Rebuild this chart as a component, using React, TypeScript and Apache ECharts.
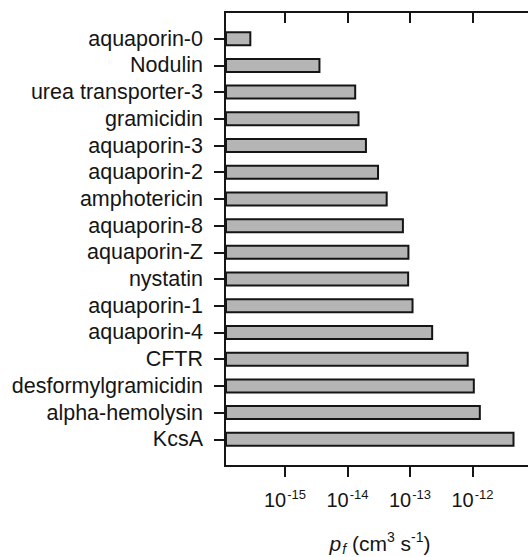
import React, { useEffect, useRef } from "react";
import * as echarts from "echarts";

const categories = [
  "aquaporin-0",
  "Nodulin",
  "urea transporter-3",
  "gramicidin",
  "aquaporin-3",
  "aquaporin-2",
  "amphotericin",
  "aquaporin-8",
  "aquaporin-Z",
  "nystatin",
  "aquaporin-1",
  "aquaporin-4",
  "CFTR",
  "desformylgramicidin",
  "alpha-hemolysin",
  "KcsA",
];

const pfValues = [
  2.9e-16, 3.7e-15, 1.38e-14, 1.56e-14, 2.05e-14, 3.2e-14, 4.4e-14, 8.0e-14,
  9.8e-14, 9.7e-14, 1.14e-13, 2.35e-13, 8.7e-13, 1.09e-12, 1.36e-12, 4.7e-12,
];

const tickValues = [1e-15, 1e-14, 1e-13, 1e-12];
const axisMin = 1.1e-16;
const axisMax = 1e-11;

const FONT = "'Liberation Sans', Arial, Helvetica, sans-serif";
const INK = "#151515";

export default function App() {
  const ref = useRef<HTMLDivElement>(null);

  useEffect(() => {
    document.body.style.margin = "0";
    if (!ref.current) return;
    const chart = echarts.init(ref.current, null, { renderer: "svg" });

    const yCats = ["", ...categories, ""];
    const yData = [null, ...pfValues, null];

    chart.setOption({
      animation: false,
      backgroundColor: "#ffffff",
      grid: {
        left: 225,
        top: 12,
        width: 310,
        height: 454,
        containLabel: false,
        outerBoundsMode: "none",
        show: true,
        borderColor: INK,
        borderWidth: 2,
        backgroundColor: "transparent",
      },
      xAxis: [
        {
          type: "log",
          min: axisMin,
          max: axisMax,
          startValue: axisMin,
          position: "bottom",
          axisLine: { show: true, lineStyle: { color: INK, width: 2 } },
          axisTick: {
            show: true,
            inside: false,
            length: 11,
            customValues: tickValues,
            lineStyle: { color: INK, width: 2 },
          },
          splitLine: { show: false },
          minorTick: { show: false },
          axisLabel: {
            show: true,
            margin: 22,
            customValues: tickValues,
            formatter: (v: number) =>
              `{b|10}{s|${Math.round(Math.log10(v))}}`,
            rich: {
              b: { fontSize: 20, fontFamily: FONT, color: INK, lineHeight: 24 },
              s: {
                fontSize: 13,
                fontFamily: FONT,
                color: INK,
                lineHeight: 14,
                verticalAlign: "top",
                padding: [0, 0, 0, 1],
              },
            },
          },
          name: "{i|p}{fi|f}{n| (cm}{s|3}{n| s}{s|-1}{n|)}",
          nameLocation: "middle",
          nameGap: 64,
          nameTextStyle: {
            rich: {
              i: { fontSize: 21, fontStyle: "italic", fontFamily: FONT, color: INK, lineHeight: 26 },
              fi: {
                fontSize: 14,
                fontStyle: "italic",
                fontFamily: FONT,
                color: INK,
                lineHeight: 20,
                verticalAlign: "bottom",
                padding: [0, 0, 0, 1],
              },
              n: { fontSize: 21, fontFamily: FONT, color: INK, lineHeight: 26 },
              s: {
                fontSize: 14,
                fontFamily: FONT,
                color: INK,
                lineHeight: 14,
                verticalAlign: "top",
              },
            },
          },
        },
        {
          type: "log",
          min: axisMin,
          max: axisMax,
          position: "top",
          axisLine: { show: false },
          axisTick: {
            show: true,
            inside: true,
            length: 11,
            customValues: tickValues,
            lineStyle: { color: INK, width: 2 },
          },
          axisLabel: { show: false },
          splitLine: { show: false },
          minorTick: { show: false },
        },
      ],
      yAxis: {
        type: "category",
        inverse: true,
        boundaryGap: false,
        data: yCats,
        axisLine: { show: true, lineStyle: { color: INK, width: 2 } },
        axisTick: {
          show: true,
          length: 11,
          interval: (i: number) => i > 0 && i < yCats.length - 1,
          lineStyle: { color: INK, width: 2 },
        },
        axisLabel: {
          margin: 22,
          interval: 0,
          fontSize: 21.5,
          fontFamily: FONT,
          color: INK,
        },
        splitLine: { show: false },
      },
      series: [
        {
          type: "bar",
          xAxisIndex: 0,
          data: yData,
          barWidth: 15,
          itemStyle: {
            color: "#b5b5b5",
            borderColor: INK,
            borderWidth: 2,
          },
        },
      ],
    });

    return () => chart.dispose();
  }, []);

  return (
    <div
      ref={ref}
      style={{ width: 528, height: 557, position: "absolute", left: 0, top: 0 }}
    />
  );
}
